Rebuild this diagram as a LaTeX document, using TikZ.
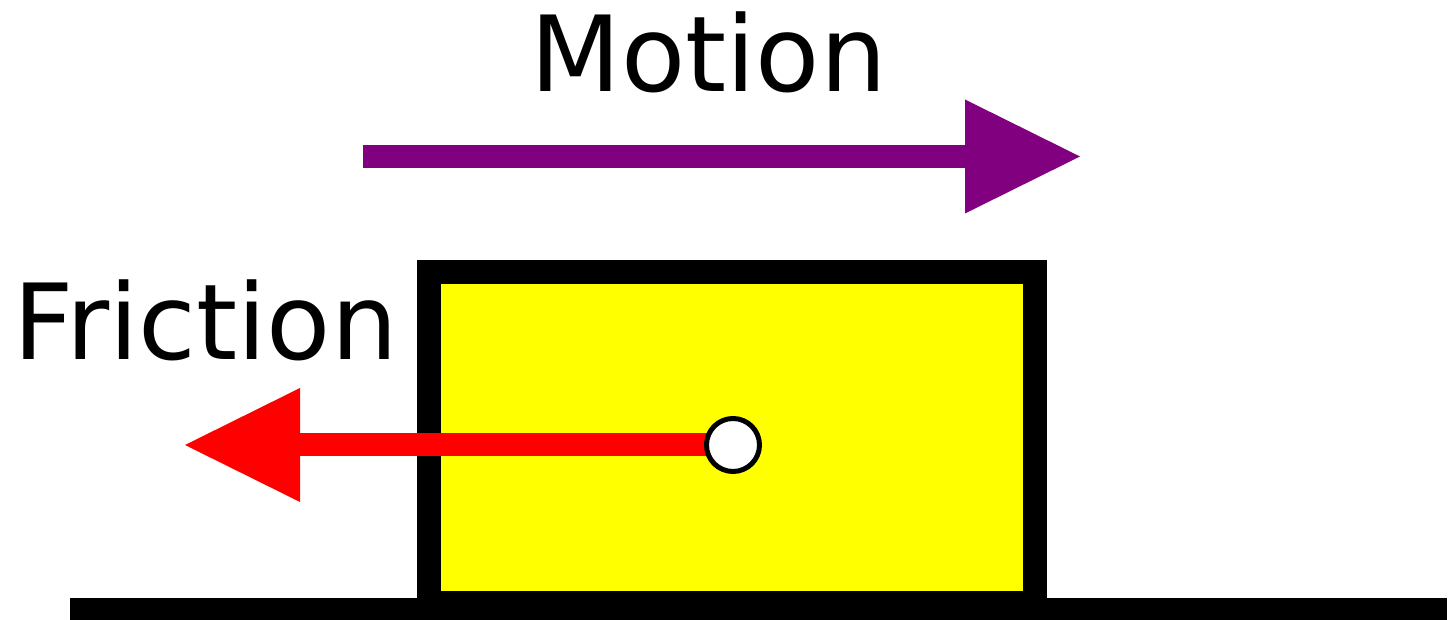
\documentclass[tikz,border=0pt]{standalone}
\usepackage{fontspec}
\setmainfont{DejaVu Sans}
\usetikzlibrary{arrows.meta}
\definecolor{motionpurple}{RGB}{128,0,128}
\definecolor{boxyellow}{RGB}{255,255,0}
\definecolor{forcered}{RGB}{255,0,0}
\begin{document}
\begin{tikzpicture}[x=1pt,y=1pt,
  label/.style={inner sep=0pt, anchor=base, font=\fontsize{105}{105}\selectfont},
  blockbox/.style={draw=black, line width=24pt, fill=boxyellow, rectangle, inner sep=0pt, minimum width=606pt, minimum height=331pt},
  bigarrow/.style={line width=23pt, -{Triangle[length=115pt,width=114pt,line width=0pt]}},
  centredot/.style={circle, draw=black, fill=white, line width=5pt, minimum size=53pt, inner sep=0pt}
]
\useasboundingbox (0,0) rectangle (1449,620);
% ground
\fill[black] (70,0) rectangle (1447,22);
% block
\node[blockbox] (box) at (732,182.5) {};
% labels
\node[label] (motion) at (708.5,528) {Motion};
\node[label] (friction) at (205.5,260) {Friction};
% motion arrow
\coordinate (mstart) at (363,463.5);
\coordinate (mtip) at (1080,463.5);
\draw[bigarrow, draw=motionpurple, fill=motionpurple] (mstart) -- (mtip);
% friction arrow
\coordinate (cc) at (733,175);
\coordinate (ftip) at (185,175);
\draw[bigarrow, draw=forcered, fill=forcered] (cc) -- (ftip);
\node[centredot] (dot) at (cc) {};
\end{tikzpicture}
\end{document}
